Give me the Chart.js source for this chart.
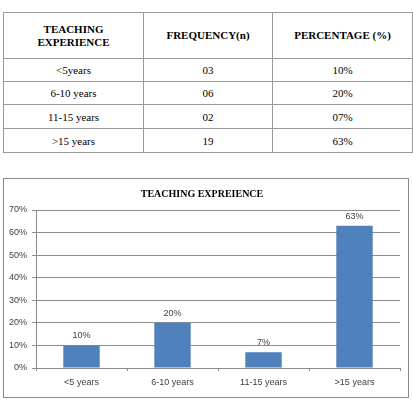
<!DOCTYPE html>
<html>
<head>
<meta charset="utf-8">
<script src="https://cdn.jsdelivr.net/npm/chart.js@4.4.0/dist/chart.umd.min.js"></script>
<style>
  html, body { margin: 0; padding: 0; background: #fff; width: 413px; height: 403px; overflow: hidden; }
  #tbl { position: absolute; left: 3px; top: 12px; border-collapse: collapse; font-family: "Liberation Serif", "Times New Roman", serif; color: #000; }
  #tbl td, #tbl th { border: 1px solid #9a9a9a; text-align: center; padding: 0; font-size: 11px; }
  #tbl th { font-weight: bold; line-height: 13px; }
  #box { position: absolute; left: 3px; top: 178px; width: 404px; height: 218px; border: 1px solid #8a8a8a; }
  #box canvas { display: block; }
</style>
</head>
<body>
<table id="tbl"></table>
<div id="box"><canvas id="c" width="404" height="218"></canvas></div>
<script>
// ---- data ----
const headers = ["TEACHING<br>EXPERIENCE", "FREQUENCY(n)", "PERCENTAGE (%)"];
const tableCategories = ["<5years", "6-10 years", "11-15 years", ">15 years"];
const frequencies = ["03", "06", "02", "19"];
const percentLabels = ["10%", "20%", "07%", "63%"];

const chartTitle = "TEACHING EXPREIENCE";
const categories = ["<5 years", "6-10 years", "11-15 years", ">15 years"];
const values = [10, 20, 7, 63];
const yTicks = [0, 10, 20, 30, 40, 50, 60, 70];

// ---- table ----
const colW = [139, 128, 139];
const rowH = [46, 23, 23, 24, 24];
const tbl = document.getElementById('tbl');
let html = '<tr style="height:' + rowH[0] + 'px">';
headers.forEach((h, i) => { html += '<th style="width:' + colW[i] + 'px">' + h + '</th>'; });
html += '</tr>';
const esc = s => s.replace(/</g, '&lt;').replace(/>/g, '&gt;');
tableCategories.forEach((c, r) => {
  html += '<tr style="height:' + rowH[r + 1] + 'px"><td>' + esc(c) + '</td><td>' + frequencies[r] + '</td><td>' + percentLabels[r] + '</td></tr>';
});
tbl.innerHTML = html;

// ---- chart ----
const valueLabels = {
  id: 'valueLabels',
  afterDatasetsDraw(chart) {
    const ctx = chart.ctx;
    const meta = chart.getDatasetMeta(0);
    ctx.save();
    ctx.font = '9px "Liberation Sans", Arial, sans-serif';
    ctx.fillStyle = '#404040';
    ctx.textAlign = 'center';
    ctx.textBaseline = 'middle';
    meta.data.forEach((bar, i) => {
      ctx.fillText(values[i] + '%', bar.x, bar.y - 9.5);
    });
    ctx.restore();
  }
};

new Chart(document.getElementById('c'), {
  type: 'bar',
  data: {
    labels: categories,
    datasets: [{
      data: values,
      backgroundColor: '#4F81BD',
      borderWidth: 0,
      categoryPercentage: 1.0,
      barPercentage: 0.4
    }]
  },
  options: {
    responsive: false,
    animation: false,
    layout: { padding: { left: 0, right: 8, top: 0, bottom: 0 } },
    plugins: {
      legend: { display: false },
      tooltip: { enabled: false },
      title: {
        display: true,
        text: chartTitle,
        color: '#000',
        font: { family: '"Liberation Serif", "Times New Roman", serif', size: 10, weight: 'bold' },
        padding: { top: 9, bottom: 10 }
      }
    },
    scales: {
      x: {
        grid: { display: true, drawOnChartArea: false, drawTicks: true, tickLength: 3, color: '#8c8c8c', offset: true },
        border: { display: true, color: '#8c8c8c' },
        ticks: { color: '#404040', font: { family: '"Liberation Sans", Arial, sans-serif', size: 9 }, padding: 6, maxRotation: 0 },
        afterFit(scale) { scale.height = 29; }
      },
      y: {
        min: 0, max: 70,
        afterBuildTicks(scale) { scale.ticks = yTicks.map(v => ({ value: v })); },
        grid: { color: '#8c8c8c', tickLength: 4 },
        border: { display: true, color: '#8c8c8c' },
        ticks: { color: '#404040', font: { family: '"Liberation Sans", Arial, sans-serif', size: 9 }, padding: 5,
                 callback: v => v + '%' },
        afterFit(scale) { scale.width = 32; }
      }
    }
  },
  plugins: [valueLabels]
});
</script>
</body>
</html>
